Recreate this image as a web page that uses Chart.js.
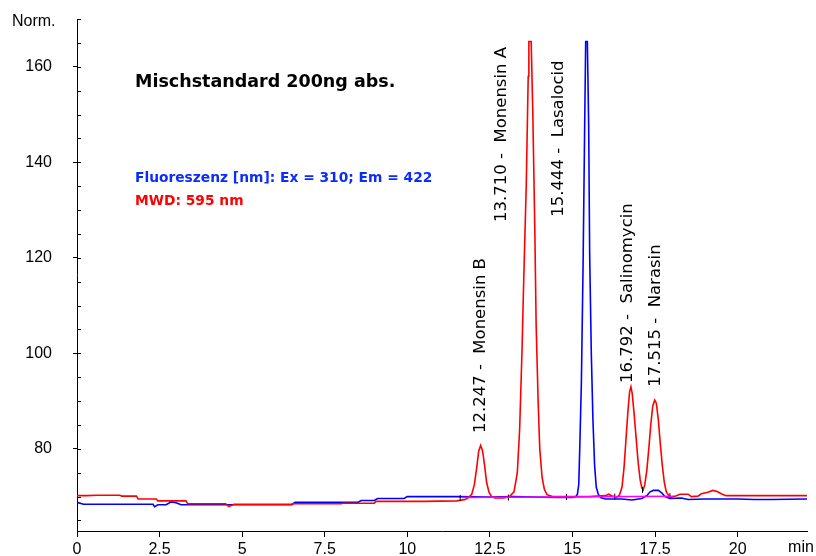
<!DOCTYPE html>
<html>
<head>
<meta charset="utf-8">
<title>Mischstandard 200ng abs.</title>
<script src="https://cdn.jsdelivr.net/npm/chart.js@4/dist/chart.umd.min.js"></script>
<style>
  body { margin: 0; background: #fff; }
  canvas { display: block; }
</style>
</head>
<body>
<canvas id="chromatogram" width="816" height="556"></canvas>
<script>
// MWD 595 nm trace (red)
const redTime = [
  0, 0.3, 0.6, 1.3, 1.35, 1.8, 1.85, 2.4, 2.45, 3.3, 3.35, 4.5, 4.6, 4.75, 6.5, 6.55, 8.0, 8.05, 9.0, 9.05,
  10.5, 11.5, 11.75, 11.85,
  11.95, 12.03, 12.10, 12.16, 12.22, 12.28, 12.34, 12.40, 12.47, 12.55, 12.65, 12.9, 13.0,
  13.08, 13.23, 13.33, 13.40, 13.47, 13.53, 13.60, 13.66, 13.68, 13.75, 13.80, 13.86, 13.90, 13.96, 14.01, 14.08, 14.15, 14.23, 14.4,
  15.0, 15.5, 16.0, 16.1, 16.2,
  16.35, 16.42, 16.50, 16.56, 16.62, 16.68, 16.73, 16.77, 16.81, 16.87, 16.93, 16.99, 17.05, 17.10, 17.14,
  17.19, 17.25, 17.31, 17.37, 17.43, 17.49, 17.54, 17.60, 17.66, 17.72, 17.78, 17.84, 17.92,
  18.0, 18.15, 18.25, 18.5, 18.6, 18.8, 18.9, 19.1, 19.25, 19.4, 19.5, 19.65, 20.0, 22.1
];
const redSignal = [
  70.2, 70.2, 70.3, 70.3, 70.1, 70.1, 69.5, 69.5, 69.1, 69.1, 68.5, 68.5, 67.9, 68.4, 68.4, 68.5, 68.5, 68.6, 68.6, 69.0,
  69.0, 69.1, 69.4, 69.8,
  70.5, 72.5, 76, 79.5, 80.7, 79.5, 76.5, 73, 71, 70, 69.7, 69.7, 69.8,
  69.9, 71, 75, 84, 100, 117, 135, 158, 165.3, 165.3, 150, 126, 106, 90, 80, 74, 71.5, 70.4, 70.0,
  70.0, 70.0, 70.2, 70.5, 70.1,
  69.9, 70.3, 72, 76, 82, 88, 92, 93, 91.5, 87, 82, 77, 73.5, 71.8, 71.4,
  72.5, 75.5, 80, 85, 89, 90.2, 89.5, 86, 81, 76.5, 73, 71, 70.2,
  69.9, 70.2, 70.5, 70.5, 70.0, 70.1, 70.6, 70.9, 71.3, 71.0, 70.6, 70.2, 70.2, 70.2
];

// Fluorescence Ex 310 / Em 422 trace (blue)
const blueTime = [
  0, 0.2, 2.3, 2.35, 2.45, 2.7, 2.85, 3.0, 3.15, 6.5, 6.6, 8.5, 8.6, 9.0, 9.1, 9.9, 10.0,
  11.5, 12.5, 13.2, 14.5, 15.0, 15.10,
  15.15, 15.19, 15.22, 15.27, 15.32, 15.37, 15.40, 15.45, 15.49, 15.52, 15.57, 15.62, 15.67, 15.72, 15.78, 15.85, 16.0,
  16.5, 16.8, 17.1, 17.25, 17.35, 17.45, 17.6, 17.7, 17.8, 17.95,
  18.3, 18.5, 19.0, 20.0, 20.5, 21.0, 22.1
];
const blueSignal = [
  68.8, 68.4, 68.4, 67.9, 68.3, 68.3, 68.9, 68.7, 68.3, 68.3, 68.8, 68.8, 69.2, 69.2, 69.6, 69.6, 70.0,
  70.0, 69.9, 70.0, 69.8, 69.8, 70.0,
  70.5, 72.5, 80, 94, 118, 148, 165.3, 165.3, 148, 121, 100, 86, 76.5, 72, 70.5, 69.8, 69.5,
  69.5, 69.3, 69.6, 70.2, 71.0, 71.3, 71.3, 70.8, 70.0, 69.6,
  69.7, 69.4, 69.5, 69.5, 69.4, 69.4, 69.5
];

// integration baseline (magenta) and peak start/end marks
const baselineTime = [11.65, 18.05];
const baselineSignal = [69.8, 70.1];
const markTime = [11.6, 13.06, 14.82, 16.28, 17.12, 17.95];
const markSignal = [69.7, 69.8, 69.9, 70.0, 71.4, 70.1];

// peaks
const peakTimes = [12.247, 13.710, 15.444, 16.792, 17.515];
const peakNames = ["Monensin B", "Monensin A", "Lasalocid", "Salinomycin", "Narasin"];

// axis ticks
const xTickValues = [0, 2.5, 5, 7.5, 10, 12.5, 15, 17.5, 20];
const yTickValues = [80, 100, 120, 140, 160];

const toPoints = (xs, ys) => xs.map((t, i) => ({ x: t, y: ys[i] }));

// where the rotated labels sit (time, signal at the start of the text)
const labelAnchorX = [12.23, 12.85, 14.59, 16.66, 17.52];
const labelAnchorY = [83.3, 127.5, 128.6, 93.8, 93.0];

const textLayer = {
  id: "textLayer",
  afterDraw(chart) {
    const { ctx, chartArea } = chart;
    const xScale = chart.scales.x;
    const yScale = chart.scales.y;
    ctx.save();

    // small inner ticks every 5 units on the y axis
    ctx.strokeStyle = "#000";
    ctx.lineWidth = 1;
    for (let v = 65; v <= 170; v += 5) {
      const py = Math.round(yScale.getPixelForValue(v)) + 0.5;
      ctx.beginPath();
      ctx.moveTo(chartArea.left, py);
      ctx.lineTo(chartArea.left + 4, py);
      ctx.stroke();
    }

    ctx.fillStyle = "#000";
    ctx.textBaseline = "middle";
    ctx.textAlign = "left";
    ctx.font = '16px "Liberation Sans", Arial, sans-serif';
    ctx.fillText("Norm.", 12, 22);
    ctx.textAlign = "center";
    ctx.fillText("min", 801, 548);

    ctx.textAlign = "left";
    ctx.font = 'bold 17.5px "DejaVu Sans", sans-serif';
    ctx.fillText("Mischstandard 200ng abs.", 135, 82);
    ctx.font = 'bold 13.8px "DejaVu Sans", sans-serif';
    ctx.fillStyle = "#0a2cff";
    ctx.fillText("Fluoreszenz [nm]: Ex = 310; Em = 422", 135, 178);
    ctx.fillStyle = "#ff0000";
    ctx.fillText("MWD: 595 nm", 135, 201);

    ctx.fillStyle = "#000";
    ctx.font = '16.5px "DejaVu Sans", sans-serif';
    peakTimes.forEach((t, i) => {
      const px = xScale.getPixelForValue(labelAnchorX[i]);
      const py = yScale.getPixelForValue(labelAnchorY[i]);
      ctx.save();
      ctx.translate(px, py);
      ctx.rotate(-Math.PI / 2);
      ctx.fillText(t.toFixed(3) + " -  " + peakNames[i], 0, 0);
      ctx.restore();
    });

    ctx.restore();
  },
};

// drop the label overflow padding chart.js adds, so the plot box is fixed
function noLabelPadding(scale) {
  scale.paddingTop = 0;
  scale.paddingBottom = 0;
  scale.paddingLeft = 0;
  scale.paddingRight = 0;
}

new Chart(document.getElementById("chromatogram"), {
  type: "line",
  data: {
    datasets: [
      {
        label: "Basislinie",
        data: toPoints(baselineTime, baselineSignal),
        borderColor: "#ff00ff",
        borderWidth: 1.5,
        pointRadius: 0,
        order: 0,
      },
      {
        label: "Marken",
        data: toPoints(markTime, markSignal),
        showLine: false,
        pointStyle: "line",
        rotation: 90,
        pointRadius: 3,
        borderColor: "#000",
        borderWidth: 1,
        order: 0,
      },
      {
        label: "MWD: 595 nm",
        data: toPoints(redTime, redSignal),
        borderColor: "#ff0000",
        borderWidth: 1.6,
        pointRadius: 0,
        order: 1,
      },
      {
        label: "Fluoreszenz",
        data: toPoints(blueTime, blueSignal),
        borderColor: "#0000ff",
        borderWidth: 1.6,
        pointRadius: 0,
        order: 2,
      },
    ],
  },
  options: {
    responsive: false,
    animation: false,
    devicePixelRatio: 1,
    layout: { padding: { top: 19, right: 9, left: 0, bottom: 0 } },
    plugins: { legend: { display: false }, tooltip: { enabled: false } },
    elements: { line: { tension: 0 } },
    scales: {
      x: {
        type: "linear",
        min: 0,
        max: 22.1,
        afterFit: (scale) => { scale.height = 25; noLabelPadding(scale); },
        afterBuildTicks: (scale) => { scale.ticks = xTickValues.map((v) => ({ value: v })); },
        grid: { display: true, drawOnChartArea: false, tickLength: 6, color: "#000" },
        border: { display: true, color: "#000", width: 1 },
        ticks: {
          color: "#000",
          padding: 3,
          maxRotation: 0,
          autoSkip: false,
          font: { family: '"Liberation Sans", Arial, sans-serif', size: 16 },
          callback: (v) => String(v),
        },
      },
      y: {
        type: "linear",
        min: 62.8,
        max: 170,
        afterFit: (scale) => { scale.width = 77; noLabelPadding(scale); },
        afterBuildTicks: (scale) => { scale.ticks = yTickValues.map((v) => ({ value: v })); },
        grid: { display: true, drawOnChartArea: false, tickLength: 4, color: "#000" },
        border: { display: true, color: "#000", width: 1 },
        ticks: {
          color: "#000",
          padding: 21,
          autoSkip: false,
          font: { family: '"Liberation Sans", Arial, sans-serif', size: 16 },
          callback: (v) => String(v),
        },
      },
    },
  },
  plugins: [textLayer],
});
</script>
</body>
</html>
